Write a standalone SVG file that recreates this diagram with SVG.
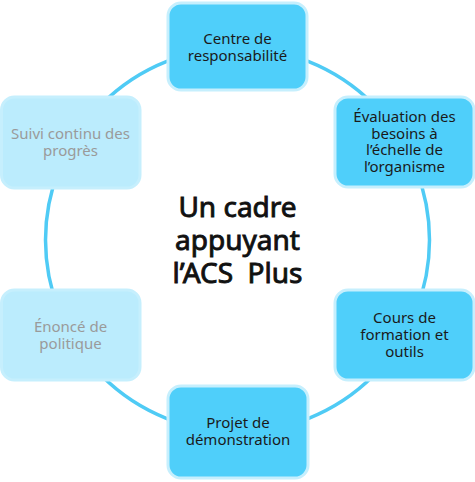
<svg xmlns="http://www.w3.org/2000/svg" width="475" height="482" viewBox="0 0 475 482">
<style>
.box{stroke:#c6effd;stroke-width:3}
.on{fill:#4fcffa}
.off{fill:#bbecfd}
.t{font-family:"Noto Sans","DejaVu Sans",sans-serif;font-size:15px;text-anchor:middle}
.dark{fill:#1a1a1a}
.grey{fill:#9a9a9a}
.title{font-family:"Noto Sans","DejaVu Sans",sans-serif;font-size:28px;font-weight:normal;text-anchor:middle;fill:#111;stroke:#111;stroke-width:0.9;white-space:pre}
</style>
<rect width="475" height="482" fill="#fff"/>
<g id="connectors">
<circle cx="237.5" cy="240" r="192" fill="none" stroke="#4fcbf5" stroke-width="3.5"/>
</g>
<g id="title">
<text class="title" x="237.5" y="217">Un cadre</text>
<text class="title" x="237.5" y="250">appuyant</text>
<text class="title" x="237.5" y="283" xml:space="preserve">l’ACS  Plus</text>
</g>
<g id="n-centre">
<rect class="box on" x="168" y="3" width="139" height="87" rx="13"/>
<text class="t dark" x="237.5" y="44">Centre de</text>
<text class="t dark" x="237.5" y="61">responsabilité</text>
</g>
<g id="n-evaluation">
<rect class="box on" x="335" y="97" width="139" height="90" rx="13"/>
<text class="t dark" x="404.5" y="122">Évaluation des</text>
<text class="t dark" x="404.5" y="138.5">besoins à</text>
<text class="t dark" x="404.5" y="155">l’échelle de</text>
<text class="t dark" x="404.5" y="171.5">l’organisme</text>
</g>
<g id="n-cours">
<rect class="box on" x="335" y="290" width="139" height="90" rx="13"/>
<text class="t dark" x="404.5" y="323">Cours de</text>
<text class="t dark" x="404.5" y="340">formation et</text>
<text class="t dark" x="404.5" y="357">outils</text>
</g>
<g id="n-projet">
<rect class="box on" x="168" y="386" width="140" height="92" rx="13"/>
<text class="t dark" x="238" y="428">Projet de</text>
<text class="t dark" x="238" y="445">démonstration</text>
</g>
<g id="n-enonce">
<rect class="box off" x="1.5" y="290" width="138.5" height="90" rx="13"/>
<text class="t grey" x="70.5" y="332">Énoncé de</text>
<text class="t grey" x="70.5" y="349">politique</text>
</g>
<g id="n-suivi">
<rect class="box off" x="1.5" y="97" width="138.5" height="91" rx="13"/>
<text class="t grey" x="70.5" y="139">Suivi continu des</text>
<text class="t grey" x="70.5" y="156">progrès</text>
</g>
</svg>
